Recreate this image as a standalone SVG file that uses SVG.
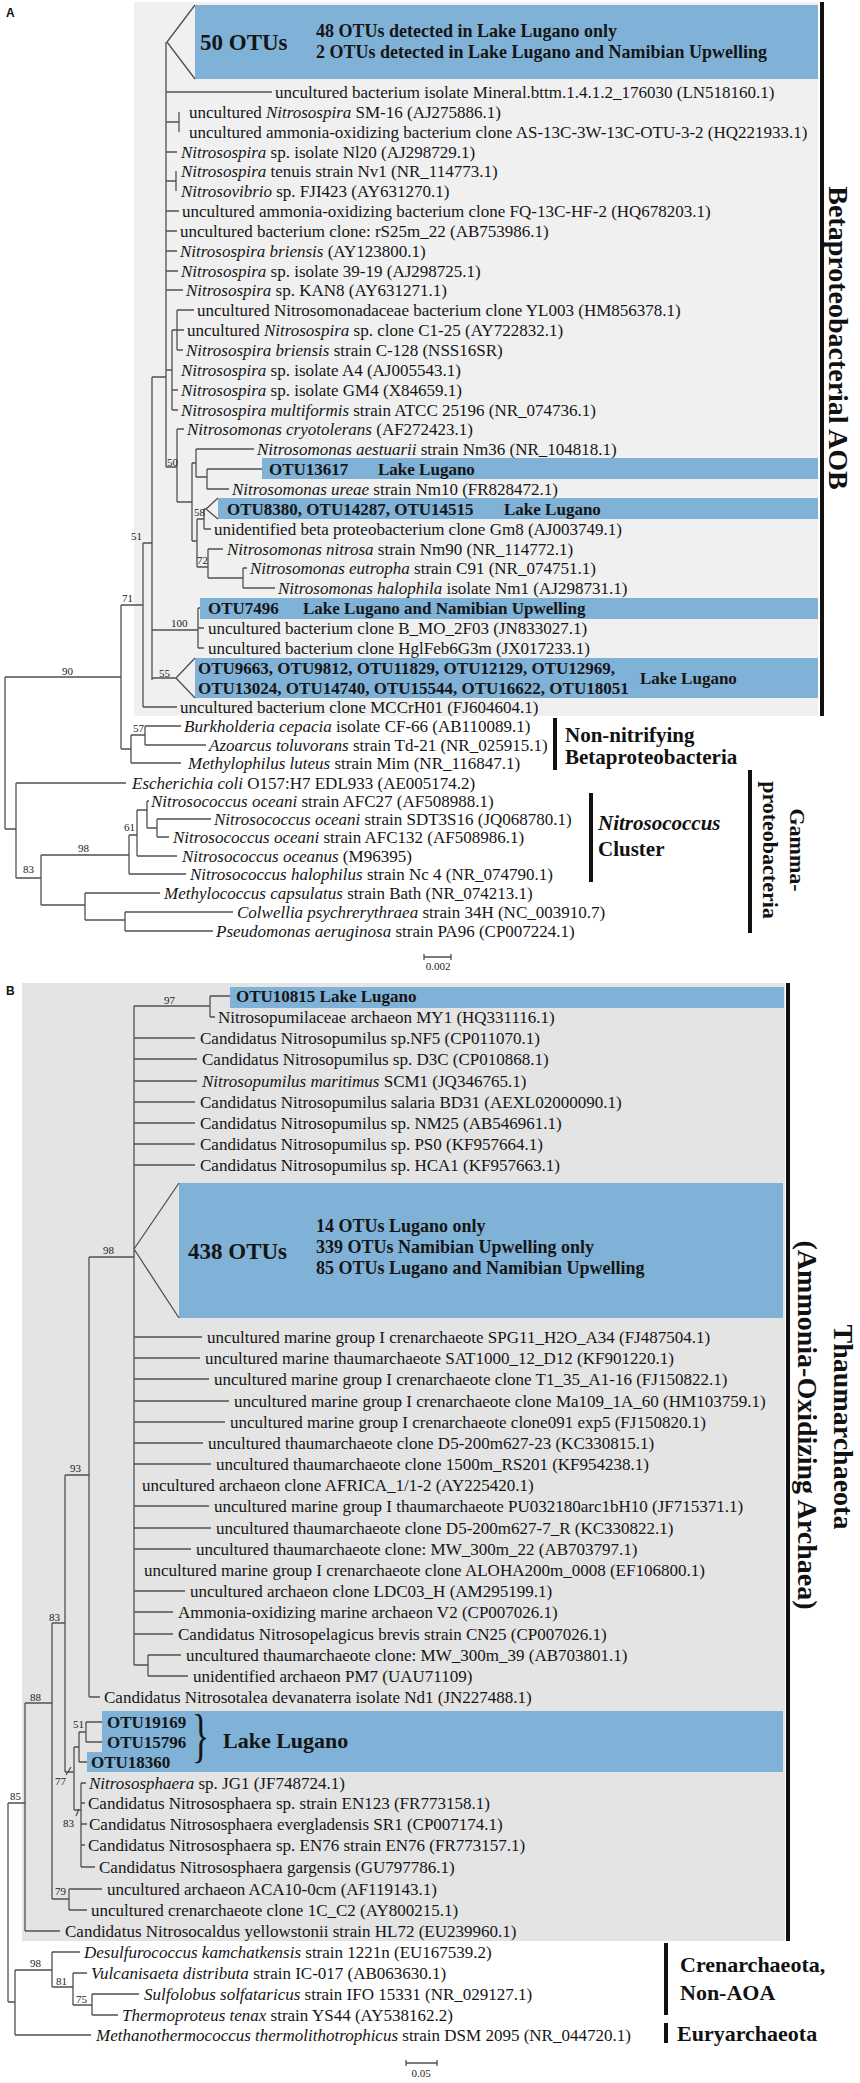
<svg xmlns="http://www.w3.org/2000/svg" width="860" height="2083" viewBox="0 0 860 2083">
<style>
.t{font-family:"Liberation Serif","Times New Roman",serif;font-size:17px;fill:#151515}
.i{font-style:italic}
.b{font-weight:bold}
.n{font-family:"Liberation Serif","Times New Roman",serif;font-size:11px;fill:#222}
.g{font-family:"Liberation Serif","Times New Roman",serif;font-weight:bold;fill:#111}
.p{font-family:"Liberation Sans",Arial,sans-serif;font-weight:bold;font-size:12px;fill:#111}
.e{fill:none;stroke:#505050;stroke-width:1.3}
.box{fill:#80b2d8}
.bar{fill:#111}
</style>
<rect x="0" y="0" width="860" height="2083" fill="#ffffff"/>
<g id="backgrounds">
<rect x="134" y="2" width="684" height="714" fill="#f0f0f0"/>
<rect x="22" y="983" width="763" height="958" fill="#e4e4e4"/>
</g>
<g id="clade-bars">
<rect class="bar" x="820" y="2" width="4" height="714"/>
<rect class="bar" x="553" y="718" width="4" height="52"/>
<rect class="bar" x="589" y="793" width="4" height="89"/>
<rect class="bar" x="748" y="770" width="4" height="163"/>
<rect class="bar" x="786" y="983" width="4" height="958"/>
<rect class="bar" x="664" y="1943" width="4" height="72"/>
<rect class="bar" x="664" y="2023" width="4" height="20"/>
</g>
<g id="highlight-boxes">
<rect class="box" x="195" y="5" width="623" height="74"/>
<rect class="box" x="262" y="458" width="556" height="21"/>
<rect class="box" x="218" y="498" width="600" height="21"/>
<rect class="box" x="200" y="598" width="618" height="21"/>
<rect class="box" x="195" y="658" width="623" height="40"/>
<rect class="box" x="230" y="987" width="554" height="21"/>
<rect class="box" x="179" y="1183" width="604" height="135"/>
<path class="box" d="M102 1711 H783 V1772 H87 V1752 H102 Z"/>
</g>
<g id="connectors">
<path class="e" d="M5 677 V829 M5 677 H121 M121 605 V749 M121 605 H143 M121 749 H131 M131 735 V763 M131 735 H145 M131 763 H181 M145 726 V745 M145 726 H181 M145 745 H206 M143 543 V707 M143 543 H152 M143 707 H177 M152 377 V680 M152 377 H166 M152 630 H198 M152 678 H176 M198 608 V648 M198 608 H200 M198 628 H204 M198 648 H204 M176 678 L195 658 M176 678 L195 698"/>
<path class="e" d="M166 42 V467 M167 42 L195 5 M167 42 L195 79 M166 92 H272 M166 122 H179 M179 112 V132 M166 152 H177 M166 181 H176 M176 171 V191 M166 211 H179 M166 231 H177 M166 251 H177 M166 271 H178 M166 290 H183 M166 370 H172 M172 330 V410 M172 330 H177 M177 310 V350 M177 310 H194 M177 330 H184 M177 350 H183 M172 390 H178 M172 410 H178"/>
<path class="e" d="M166 467 H177 M177 429 V502 M177 429 H184 M177 502 H192 M192 463 V541 M192 463 H196 M196 449 V477 M196 449 H254 M196 477 H207 M207 469 V489 M207 469 H262 M207 489 H229 M192 541 H197 M197 519 V567 M197 519 H204 M204 509 V529 M204 509 H206 L218 498 M206 509 L218 519 M204 529 H211 M197 567 H208 M208 549 V578 M208 549 H223 M208 578 H243 M243 568 V588 M243 568 H247 M243 588 H275"/>
<path class="e" d="M5 829 H16 M16 783 V878 M16 783 H126 M16 878 H41 M41 855 V905 M41 855 H129 M129 835 V874 M129 835 H137 M129 874 H186 M137 810 V856 M137 810 H147 M137 856 H177 M147 801 V828 M147 801 H149 M147 828 H157 M157 819 V837 M157 819 H211 M157 837 H169 M41 905 H85 M85 893 V920 M85 893 H160 M85 920 H125 M125 912 V931 M125 912 H233 M125 931 H213"/>
<path class="e" d="M424 957 H451 M424 954 V960 M451 954 V960 M406 2063 H437 M406 2060 V2066 M437 2060 V2066"/>
<path class="e" d="M8 1803 V2002 M8 1803 H25 M25 1703 V1931 M25 1703 H52 M25 1931 H60 M52 1623 V1899 M52 1623 H65 M52 1899 H69 M69 1889 V1910 M69 1889 H102 M69 1910 H87 M65 1475 V1772 M65 1475 H89 M65 1772 H74 M74 1747 V1810 M74 1747 H79 M74 1810 H81 M79 1732 V1762 M79 1732 H86 M79 1762 H87 M86 1722 V1742 M86 1722 H102 M86 1742 H102 M81 1783 V1867 M81 1783 H86 M81 1803 H85 M81 1824 H87 M81 1845 H85 M81 1867 H95 M66 1775 L71 1767 M76 1816 L79 1809"/>
<path class="e" d="M89 1257 V1697 M89 1257 H134 M89 1697 H100 M134 1006 V1665 M134 1006 H210 M210 996 V1017 M210 996 H230 M210 1017 H215 M134 1249 L179 1183 M134 1249 L179 1318 M134 1038 H195 M134 1059 H197 M134 1081 H197 M134 1102 H195 M134 1123 H195 M134 1144 H195 M134 1165 H195 M134 1337 H202 M134 1358 H200 M134 1379 H209 M134 1401 H229 M134 1422 H225 M134 1443 H203 M134 1464 H211 M134 1506 H209 M134 1528 H211 M134 1549 H191 M134 1591 H185 M134 1612 H173 M134 1634 H173 M134 1665 H148 M148 1655 V1676 M148 1655 H181 M148 1676 H188"/>
<path class="e" d="M8 2002 H15 M15 1970 V2035 M15 1970 H52 M15 2035 H91 M52 1952 V1987 M52 1952 H80 M52 1987 H73 M73 1973 V2005 M73 1973 H87 M73 2005 H92 M92 1994 V2015 M92 1994 H139 M92 2015 H118"/>
</g>
<g id="support-values">
<text class="n" x="62" y="675">90</text>
<text class="n" x="122" y="602">71</text>
<text class="n" x="133" y="732">57</text>
<text class="n" x="131" y="540">51</text>
<text class="n" x="171" y="627">100</text>
<text class="n" x="159" y="677">55</text>
<text class="n" x="167" y="466">50</text>
<text class="n" x="194" y="516">58</text>
<text class="n" x="197" y="564">72</text>
<text class="n" x="23" y="873">83</text>
<text class="n" x="78" y="852">98</text>
<text class="n" x="124" y="831">61</text>
<text class="n" x="164" y="1004">97</text>
<text class="n" x="103" y="1254">98</text>
<text class="n" x="70" y="1472">93</text>
<text class="n" x="49" y="1621">83</text>
<text class="n" x="30" y="1701">88</text>
<text class="n" x="10" y="1800">85</text>
<text class="n" x="73" y="1728">51</text>
<text class="n" x="55" y="1785">77</text>
<text class="n" x="63" y="1827">83</text>
<text class="n" x="55" y="1895">79</text>
<text class="n" x="30" y="1967">98</text>
<text class="n" x="56" y="1985">81</text>
<text class="n" x="76" y="2003">75</text>
<text class="n" x="438" y="970" text-anchor="middle">0.002</text>
<text class="n" x="421" y="2077" text-anchor="middle">0.05</text>
</g>
<g id="panel-labels">
<text class="p" x="6" y="17">A</text>
<text class="p" x="6" y="995">B</text>
</g>
<g id="a-collapsed-50">
<text class="t b" x="200" y="50" style="font-size:23px">50 OTUs</text>
<text class="t b" x="316" y="37" style="font-size:18px">48 OTUs detected in Lake Lugano only</text>
<text class="t b" x="316" y="58" style="font-size:18px">2 OTUs detected in Lake Lugano and Namibian Upwelling</text>
</g>
<g id="a-l00"><text class="t" x="275" y="98">uncultured bacterium isolate Mineral.bttm.1.4.1.2_176030 (LN518160.1)</text></g>
<g id="a-l01"><text class="t" x="189" y="118">uncultured <tspan class="i">Nitrosospira</tspan> SM-16 (AJ275886.1)</text></g>
<g id="a-l02"><text class="t" x="189" y="138">uncultured ammonia-oxidizing bacterium clone AS-13C-3W-13C-OTU-3-2 (HQ221933.1)</text></g>
<g id="a-l03"><text class="t" x="181" y="158"><tspan class="i">Nitrosospira</tspan> sp. isolate Nl20 (AJ298729.1)</text></g>
<g id="a-l04"><text class="t" x="181" y="177"><tspan class="i">Nitrosospira</tspan> tenuis strain Nv1 (NR_114773.1)</text></g>
<g id="a-l05"><text class="t" x="181" y="197"><tspan class="i">Nitrosovibrio</tspan> sp. FJI423 (AY631270.1)</text></g>
<g id="a-l06"><text class="t" x="182" y="217">uncultured ammonia-oxidizing bacterium clone FQ-13C-HF-2 (HQ678203.1)</text></g>
<g id="a-l07"><text class="t" x="180" y="237">uncultured bacterium clone: rS25m_22 (AB753986.1)</text></g>
<g id="a-l08"><text class="t" x="180" y="257"><tspan class="i">Nitrosospira briensis</tspan> (AY123800.1)</text></g>
<g id="a-l09"><text class="t" x="181" y="277"><tspan class="i">Nitrosospira</tspan> sp. isolate 39-19 (AJ298725.1)</text></g>
<g id="a-l10"><text class="t" x="186" y="296"><tspan class="i">Nitrosospira</tspan> sp. KAN8 (AY631271.1)</text></g>
<g id="a-l11"><text class="t" x="197" y="316">uncultured Nitrosomonadaceae bacterium clone YL003 (HM856378.1)</text></g>
<g id="a-l12"><text class="t" x="187" y="336">uncultured <tspan class="i">Nitrosospira</tspan> sp. clone C1-25 (AY722832.1)</text></g>
<g id="a-l13"><text class="t" x="186" y="356"><tspan class="i">Nitrosospira briensis</tspan> strain C-128 (NSS16SR)</text></g>
<g id="a-l14"><text class="t" x="181" y="376"><tspan class="i">Nitrosospira</tspan> sp. isolate A4 (AJ005543.1)</text></g>
<g id="a-l15"><text class="t" x="181" y="396"><tspan class="i">Nitrosospira</tspan> sp. isolate GM4 (X84659.1)</text></g>
<g id="a-l16"><text class="t" x="181" y="416"><tspan class="i">Nitrosospira multiformis</tspan> strain ATCC 25196 (NR_074736.1)</text></g>
<g id="a-l17"><text class="t" x="187" y="435"><tspan class="i">Nitrosomonas cryotolerans</tspan> (AF272423.1)</text></g>
<g id="a-l18"><text class="t" x="257" y="455"><tspan class="i">Nitrosomonas aestuarii</tspan> strain Nm36 (NR_104818.1)</text></g>
<g id="a-otu13617"><text class="t b" x="269" y="475">OTU13617</text><text class="t b" x="378" y="475">Lake Lugano</text></g>
<g id="a-l20"><text class="t" x="232" y="495"><tspan class="i">Nitrosomonas ureae</tspan> strain Nm10 (FR828472.1)</text></g>
<g id="a-otu8380"><text class="t b" x="227" y="515">OTU8380, OTU14287, OTU14515</text><text class="t b" x="504" y="515">Lake Lugano</text></g>
<g id="a-l22"><text class="t" x="214" y="535">unidentified beta proteobacterium clone Gm8 (AJ003749.1)</text></g>
<g id="a-l23"><text class="t" x="227" y="555"><tspan class="i">Nitrosomonas nitrosa</tspan> strain Nm90  (NR_114772.1)</text></g>
<g id="a-l24"><text class="t" x="250" y="574"><tspan class="i">Nitrosomonas eutropha</tspan> strain C91 (NR_074751.1)</text></g>
<g id="a-l25"><text class="t" x="278" y="594"><tspan class="i">Nitrosomonas halophila</tspan> isolate Nm1 (AJ298731.1)</text></g>
<g id="a-otu7496"><text class="t b" x="208" y="614">OTU7496</text><text class="t b" x="303" y="614">Lake Lugano and Namibian Upwelling</text></g>
<g id="a-l27"><text class="t" x="208" y="634">uncultured bacterium clone B_MO_2F03 (JN833027.1)</text></g>
<g id="a-l28"><text class="t" x="208" y="654">uncultured bacterium clone HglFeb6G3m (JX017233.1)</text></g>
<g id="a-otu9663"><text class="t b" x="198" y="674">OTU9663, OTU9812, OTU11829, OTU12129, OTU12969,</text><text class="t b" x="198" y="694">OTU13024, OTU14740, OTU15544, OTU16622, OTU18051</text><text class="t b" x="640" y="684">Lake Lugano</text></g>
<g id="a-l31"><text class="t" x="180" y="713">uncultured bacterium clone MCCrH01  (FJ604604.1)</text></g>
<g id="a-burk"><text class="t" x="184" y="732"><tspan class="i">Burkholderia cepacia</tspan> isolate CF-66 (AB110089.1)</text></g>
<g id="a-azo"><text class="t" x="209" y="751"><tspan class="i">Azoarcus toluvorans</tspan> strain Td-21 (NR_025915.1)</text></g>
<g id="a-methylophilus"><text class="t" x="188" y="769"><tspan class="i">Methylophilus luteus</tspan> strain Mim (NR_116847.1)</text></g>
<g id="a-ecoli"><text class="t" x="132" y="789"><tspan class="i">Escherichia coli</tspan> O157:H7 EDL933 (AE005174.2)</text></g>
<g id="a-afc27"><text class="t" x="151" y="807"><tspan class="i">Nitrosococcus oceani</tspan> strain AFC27 (AF508988.1)</text></g>
<g id="a-sdt"><text class="t" x="214" y="825"><tspan class="i">Nitrosococcus oceani</tspan> strain SDT3S16 (JQ068780.1)</text></g>
<g id="a-afc132"><text class="t" x="173" y="843"><tspan class="i">Nitrosococcus oceani</tspan> strain AFC132 (AF508986.1)</text></g>
<g id="a-oceanus"><text class="t" x="182" y="862"><tspan class="i">Nitrosococcus oceanus</tspan> (M96395)</text></g>
<g id="a-halophilus"><text class="t" x="190" y="880"><tspan class="i">Nitrosococcus halophilus</tspan> strain Nc 4 (NR_074790.1)</text></g>
<g id="a-methylococcus"><text class="t" x="164" y="899"><tspan class="i">Methylococcus capsulatus</tspan> strain Bath (NR_074213.1)</text></g>
<g id="a-colwellia"><text class="t" x="237" y="918"><tspan class="i">Colwellia psychrerythraea</tspan> strain 34H  (NC_003910.7)</text></g>
<g id="a-pseudomonas"><text class="t" x="216" y="937"><tspan class="i">Pseudomonas aeruginosa</tspan> strain PA96  (CP007224.1)</text></g>
<g id="a-group-labels">
<text class="g" transform="translate(829,338) rotate(90)" text-anchor="middle" style="font-size:28px">Betaproteobacterial AOB</text>
<text class="g" x="565" y="742" style="font-size:21px">Non-nitrifying</text>
<text class="g" x="565" y="764" style="font-size:21px">Betaproteobacteria</text>
<text class="g" x="598" y="830" style="font-size:21px;font-style:italic">Nitrosococcus</text>
<text class="g" x="598" y="856" style="font-size:21px">Cluster</text>
<text class="g" transform="translate(790,850) rotate(90)" text-anchor="middle" style="font-size:22px">Gamma-</text>
<text class="g" transform="translate(763,850) rotate(90)" text-anchor="middle" style="font-size:22px">proteobacteria</text>
</g>
<g id="b-otu10815"><text class="t b" x="236" y="1002">OTU10815 Lake Lugano</text></g>
<g id="b-my1"><text class="t" x="218" y="1023">Nitrosopumilaceae archaeon MY1 (HQ331116.1)</text></g>
<g id="b-nf5"><text class="t" x="200" y="1044">Candidatus Nitrosopumilus sp.NF5 (CP011070.1)</text></g>
<g id="b-d3c"><text class="t" x="202" y="1065">Candidatus Nitrosopumilus sp. D3C (CP010868.1)</text></g>
<g id="b-scm1"><text class="t" x="202" y="1087"><tspan class="i">Nitrosopumilus maritimus</tspan> SCM1 (JQ346765.1)</text></g>
<g id="b-bd31"><text class="t" x="200" y="1108">Candidatus Nitrosopumilus salaria BD31 (AEXL02000090.1)</text></g>
<g id="b-nm25"><text class="t" x="200" y="1129">Candidatus Nitrosopumilus sp. NM25 (AB546961.1)</text></g>
<g id="b-ps0"><text class="t" x="200" y="1150">Candidatus Nitrosopumilus sp. PS0 (KF957664.1)</text></g>
<g id="b-hca1"><text class="t" x="200" y="1171">Candidatus Nitrosopumilus sp. HCA1 (KF957663.1)</text></g>
<g id="b-collapsed-438">
<text class="t b" x="188" y="1259" style="font-size:23px">438 OTUs</text>
<text class="t b" x="316" y="1232" style="font-size:18px">14 OTUs Lugano only</text>
<text class="t b" x="316" y="1253" style="font-size:18px">339 OTUs Namibian Upwelling only</text>
<text class="t b" x="316" y="1274" style="font-size:18px">85 OTUs Lugano and Namibian Upwelling</text>
</g>
<g id="b-spg11"><text class="t" x="207" y="1343">uncultured marine group I crenarchaeote SPG11_H2O_A34 (FJ487504.1)</text></g>
<g id="b-sat1000"><text class="t" x="205" y="1364">uncultured marine thaumarchaeote SAT1000_12_D12 (KF901220.1)</text></g>
<g id="b-t135"><text class="t" x="214" y="1385">uncultured marine group I crenarchaeote clone T1_35_A1-16 (FJ150822.1)</text></g>
<g id="b-ma109"><text class="t" x="234" y="1407">uncultured marine group I crenarchaeote clone Ma109_1A_60 (HM103759.1)</text></g>
<g id="b-clone091"><text class="t" x="230" y="1428">uncultured marine group I crenarchaeote clone091 exp5 (FJ150820.1)</text></g>
<g id="b-d5-23"><text class="t" x="208" y="1449">uncultured thaumarchaeote clone D5-200m627-23 (KC330815.1)</text></g>
<g id="b-1500m"><text class="t" x="216" y="1470">uncultured thaumarchaeote clone 1500m_RS201 (KF954238.1)</text></g>
<g id="b-africa"><text class="t" x="142" y="1491">uncultured archaeon clone AFRICA_1/1-2 (AY225420.1)</text></g>
<g id="b-pu032"><text class="t" x="214" y="1512">uncultured marine group I thaumarchaeote PU032180arc1bH10 (JF715371.1)</text></g>
<g id="b-d5-7r"><text class="t" x="216" y="1534">uncultured thaumarchaeote clone D5-200m627-7_R (KC330822.1)</text></g>
<g id="b-mw22"><text class="t" x="196" y="1555">uncultured thaumarchaeote clone: MW_300m_22 (AB703797.1)</text></g>
<g id="b-aloha"><text class="t" x="144" y="1576">uncultured marine group I crenarchaeote clone ALOHA200m_0008 (EF106800.1)</text></g>
<g id="b-ldc03"><text class="t" x="190" y="1597">uncultured archaeon clone LDC03_H (AM295199.1)</text></g>
<g id="b-v2"><text class="t" x="178" y="1618">Ammonia-oxidizing marine archaeon V2 (CP007026.1)</text></g>
<g id="b-cn25"><text class="t" x="178" y="1640">Candidatus Nitrosopelagicus brevis strain CN25 (CP007026.1)</text></g>
<g id="b-mw39"><text class="t" x="186" y="1661">uncultured thaumarchaeote clone: MW_300m_39 (AB703801.1)</text></g>
<g id="b-pm7"><text class="t" x="193" y="1682">unidentified archaeon PM7 (UAU71109)</text></g>
<g id="b-nd1"><text class="t" x="104" y="1703">Candidatus Nitrosotalea devanaterra isolate Nd1 (JN227488.1)</text></g>
<g id="b-lugano-otus">
<text class="t b" x="107" y="1728">OTU19169</text>
<text class="t b" x="107" y="1748">OTU15796</text>
<text class="t b" x="91" y="1768">OTU18360</text>
<text class="t" transform="translate(192,1755) scale(0.6,1)" style="font-size:60px">}</text>
<text class="t b" x="223" y="1748" style="font-size:22px">Lake Lugano</text>
</g>
<g id="b-jg1"><text class="t" x="89" y="1789"><tspan class="i">Nitrososphaera</tspan> sp. JG1 (JF748724.1)</text></g>
<g id="b-en123"><text class="t" x="88" y="1809">Candidatus Nitrososphaera sp. strain EN123 (FR773158.1)</text></g>
<g id="b-sr1"><text class="t" x="89" y="1830">Candidatus Nitrososphaera evergladensis SR1 (CP007174.1)</text></g>
<g id="b-en76"><text class="t" x="88" y="1851">Candidatus Nitrososphaera sp. EN76 strain EN76 (FR773157.1)</text></g>
<g id="b-garg"><text class="t" x="99" y="1873">Candidatus Nitrososphaera gargensis (GU797786.1)</text></g>
<g id="b-aca10"><text class="t" x="107" y="1895">uncultured archaeon ACA10-0cm (AF119143.1)</text></g>
<g id="b-1cc2"><text class="t" x="91" y="1916">uncultured crenarchaeote clone 1C_C2 (AY800215.1)</text></g>
<g id="b-hl72"><text class="t" x="65" y="1937">Candidatus Nitrosocaldus yellowstonii strain HL72 (EU239960.1)</text></g>
<g id="b-desulf"><text class="t" x="84" y="1958"><tspan class="i">Desulfurococcus kamchatkensis</tspan> strain 1221n (EU167539.2)</text></g>
<g id="b-vulcan"><text class="t" x="91" y="1979"><tspan class="i">Vulcanisaeta distributa</tspan> strain IC-017 (AB063630.1)</text></g>
<g id="b-sulfolobus"><text class="t" x="144" y="2000"><tspan class="i">Sulfolobus solfataricus</tspan> strain IFO 15331 (NR_029127.1)</text></g>
<g id="b-thermoproteus"><text class="t" x="122" y="2021"><tspan class="i">Thermoproteus tenax</tspan> strain YS44 (AY538162.2)</text></g>
<g id="b-methano"><text class="t" x="96" y="2041"><tspan class="i">Methanothermococcus thermolithotrophicus</tspan> strain DSM 2095 (NR_044720.1)</text></g>
<g id="b-group-labels">
<text class="g" transform="translate(834,1427) rotate(90)" text-anchor="middle" style="font-size:28px">Thaumarchaeota</text>
<text class="g" transform="translate(798,1425) rotate(90)" text-anchor="middle" style="font-size:28px">(Ammonia-Oxidizing Archaea)</text>
<text class="g" x="680" y="1972" style="font-size:22px">Crenarchaeota,</text>
<text class="g" x="680" y="2000" style="font-size:22px">Non-AOA</text>
<text class="g" x="677" y="2041" style="font-size:22px">Euryarchaeota</text>
</g>
</svg>
